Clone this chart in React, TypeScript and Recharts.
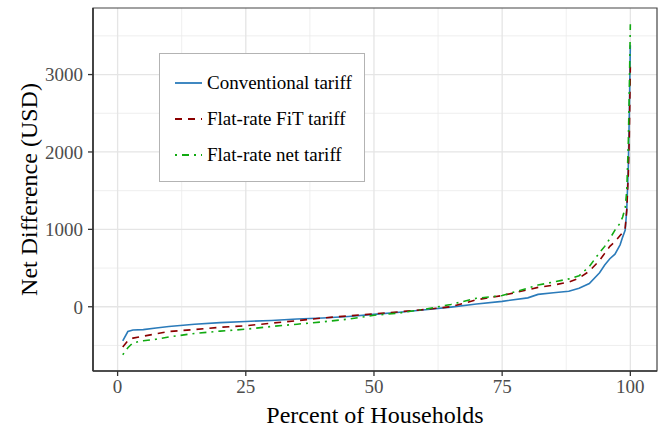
import React from 'react'
import { LineChart, Line, XAxis, YAxis, CartesianGrid, Legend, ReferenceArea } from 'recharts'

document.body.style.margin = '0'

// percent of households (sorted)
const PCT = [1, 2, 3, 5, 7.5, 10, 15, 20, 25, 30, 35, 40, 45, 50, 55, 60, 65, 70, 75, 80, 82, 85, 88, 90, 92, 94, 95, 96, 97, 98, 98.5, 99, 99.3, 99.6, 99.8, 100]
const CONVENTIONAL = [-440, -320, -300, -295, -275, -256, -225, -205, -190, -177, -158, -145, -125, -98, -70, -38, -5, 35, 70, 115, 160, 180, 200, 240, 300, 440, 540, 620, 680, 800, 900, 990, 1250, 1800, 2500, 3380]
const FLAT_FIT = [-520, -440, -405, -380, -350, -320, -295, -265, -245, -212, -180, -145, -118, -92, -65, -35, 0, 90, 145, 220, 250, 280, 320, 370, 460, 600, 690, 780, 840, 920, 960, 1020, 1250, 1700, 2200, 3100]
const FLAT_NET = [-620, -530, -465, -440, -420, -390, -345, -315, -290, -255, -225, -195, -160, -110, -80, -30, 30, 110, 145, 240, 280, 320, 360, 400, 520, 700, 780, 880, 990, 1080, 1160, 1280, 1500, 2100, 2800, 3650]

const X_TICKS = [0, 25, 50, 75, 100]
const X_MINOR = [12.5, 37.5, 62.5, 87.5]
const Y_TICKS = [0, 1000, 2000, 3000]
const Y_MINOR = [-500, 500, 1500, 2500, 3500]

const SERIES = [
  { key: 'conv', name: 'Conventional tariff', color: '#2b7bba', dash: undefined as string | undefined },
  { key: 'fit', name: 'Flat-rate FiT tariff', color: '#8b0000', dash: '7 6' },
  { key: 'net', name: 'Flat-rate net tariff', color: '#11aa11', dash: '2 5 7 5' },
]

const data = PCT.map((p, i) => ({ p, conv: CONVENTIONAL[i], fit: FLAT_FIT[i], net: FLAT_NET[i] }))

const FONT = '"Liberation Serif", "Times New Roman", serif'
const X_DOMAIN = [-4.8, 105.2]
const Y_DOMAIN = [-830, 3860]

function LegendBox() {
  return (
    <div
      style={{
        width: 206,
        height: 129,
        boxSizing: 'border-box',
        border: '1.5px solid #b3b3b3',
        background: '#fff',
        position: 'relative',
        fontFamily: FONT,
        fontSize: 19,
        color: '#000',
      }}
    >
      {SERIES.map((s, i) => (
        <div key={s.key} style={{ position: 'absolute', left: 15, top: 29 + i * 36 - 12, height: 24, display: 'flex', alignItems: 'center' }}>
          <svg width={28} height={10} style={{ marginRight: 4 }}>
            <line x1={0} y1={5} x2={27} y2={5} stroke={s.color} strokeWidth={1.8} strokeDasharray={s.dash} />
          </svg>
          <span style={{ whiteSpace: 'nowrap' }}>{s.name}</span>
        </div>
      ))}
    </div>
  )
}

const YTitle = () => {
  const cy = 8 + (371 - 8) / 2
  return (
    <text x={37} y={cy} transform={`rotate(-90, 37, ${cy})`} textAnchor="middle" fontSize={24} fontFamily={FONT} fill="#000">
      Net Difference (USD)
    </text>
  )
}

const XTitle = (props: any) => {
  const { viewBox } = props
  const cx = viewBox.x + viewBox.width / 2
  return (
    <text x={cx} y={423} textAnchor="middle" fontSize={24} fontFamily={FONT} fill="#000">
      Percent of Households
    </text>
  )
}

export default function App() {
  return (
    <LineChart width={666} height={429} data={data} margin={{ top: 8, right: 9, left: 0, bottom: 0 }} style={{ fontFamily: FONT }}>
      <CartesianGrid stroke="#ebebeb" strokeWidth={0.8} horizontalValues={Y_MINOR} verticalValues={X_MINOR} />
      <CartesianGrid stroke="#e5e5e5" strokeWidth={1.3} horizontalValues={Y_TICKS} verticalValues={X_TICKS} />
      <XAxis
        dataKey="p"
        type="number"
        domain={X_DOMAIN}
        ticks={X_TICKS}
        allowDataOverflow
        height={58}
        tickSize={5}
        tickMargin={4}
        tick={{ fontSize: 19, fill: '#4d4d4d', fontFamily: FONT }}
        tickLine={{ stroke: '#333', strokeWidth: 1.3 }}
        axisLine={{ stroke: '#333', strokeWidth: 1.6 }}
        label={<XTitle />}
      />
      <YAxis
        type="number"
        domain={Y_DOMAIN}
        ticks={Y_TICKS}
        allowDataOverflow
        width={93}
        tickSize={5}
        tickMargin={5}
        tick={{ fontSize: 19, fill: '#4d4d4d', fontFamily: FONT }}
        tickLine={{ stroke: '#333', strokeWidth: 1.3 }}
        axisLine={{ stroke: '#333', strokeWidth: 1.6 }}
        label={<YTitle />}
      />
      <ReferenceArea x1={X_DOMAIN[0]} x2={X_DOMAIN[1]} y1={Y_DOMAIN[0]} y2={Y_DOMAIN[1]} fill="none" stroke="#444" strokeWidth={1.2} fillOpacity={0} />
      {SERIES.map((s) => (
        <Line
          key={s.key}
          dataKey={s.key}
          name={s.name}
          type="linear"
          stroke={s.color}
          strokeWidth={1.6}
          strokeDasharray={s.dash}
          dot={false}
          isAnimationActive={false}
        />
      ))}
      <Legend
        layout="vertical"
        align="center"
        verticalAlign="middle"
        content={() => <LegendBox />}
        wrapperStyle={{ left: 159, top: 53, width: 206, height: 129 }}
      />
    </LineChart>
  )
}
